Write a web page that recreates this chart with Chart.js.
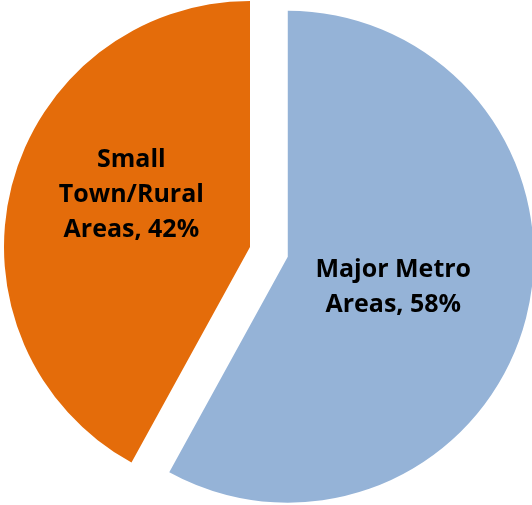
<!DOCTYPE html>
<html>
<head>
<meta charset="utf-8">
<script src="https://cdn.jsdelivr.net/npm/chart.js@4"></script>
<style>
  html, body { margin: 0; padding: 0; background: #ffffff; }
  #wrap { width: 532px; height: 505px; position: relative; }
</style>
</head>
<body>
<div id="wrap"><canvas id="chart"></canvas></div>
<script>
// Share of population by area type
const categories = [['Major Metro', 'Areas'], ['Small', 'Town/Rural', 'Areas']];
const shares = [58, 42];
const sliceColors = ['#95B3D7', '#E46C0A'];

// How far each slice is pulled out from the centre (px)
const explodeBy = [39, 0];
// Label anchor per slice: fraction of radius and angular shift (rad) from the slice middle
const labelAnchor = [{ r: 0.444, shift: 0.012 }, { r: 0.53, shift: 0.176 }];

const labelText = categories.map((lines, i) => {
  const out = lines.slice(0, -1);
  out.push(lines[lines.length - 1] + ', ' + shares[i] + '%');
  return out;
});

const explodePlugin = {
  id: 'explodeSlices',
  afterDatasetsUpdate(chart) {
    const meta = chart.getDatasetMeta(0);
    meta.data.forEach((arc, i) => {
      const d = explodeBy[i] || 0;
      if (!d) return;
      const mid = (arc.startAngle + arc.endAngle) / 2;
      arc.x += Math.cos(mid) * d;
      arc.y += Math.sin(mid) * d;
    });
  }
};

const sliceLabelPlugin = {
  id: 'sliceLabels',
  afterDatasetsDraw(chart) {
    const ctx = chart.ctx;
    const meta = chart.getDatasetMeta(0);
    const fontSize = 25;
    const lineH = 35;
    const capH = fontSize * 0.714;
    ctx.save();
    ctx.font = 'bold ' + fontSize + 'px "Open Sans", Lato, sans-serif';
    ctx.fillStyle = '#000000';
    ctx.textAlign = 'center';
    ctx.textBaseline = 'alphabetic';
    meta.data.forEach((arc, i) => {
      const a = labelAnchor[i];
      const ang = (arc.startAngle + arc.endAngle) / 2 + a.shift;
      const cx = arc.x + Math.cos(ang) * arc.outerRadius * a.r;
      const cy = arc.y + Math.sin(ang) * arc.outerRadius * a.r;
      const lines = labelText[i];
      lines.forEach((t, k) => {
        const y = cy + (k - (lines.length - 1) / 2) * lineH + capH / 2;
        ctx.fillText(t, cx, y);
      });
    });
    ctx.restore();
  }
};

new Chart(document.getElementById('chart'), {
  type: 'pie',
  data: {
    labels: categories.map(l => l.join(' ')),
    datasets: [{
      data: shares,
      backgroundColor: sliceColors,
      borderWidth: 0,
      clip: false
    }]
  },
  options: {
    responsive: true,
    maintainAspectRatio: false,
    animation: false,
    events: [],
    radius: 246,
    layout: { padding: { left: 0, right: 32, top: 0, bottom: 11 } },
    plugins: {
      legend: { display: false },
      tooltip: { enabled: false }
    }
  },
  plugins: [explodePlugin, sliceLabelPlugin]
});
</script>
</body>
</html>
